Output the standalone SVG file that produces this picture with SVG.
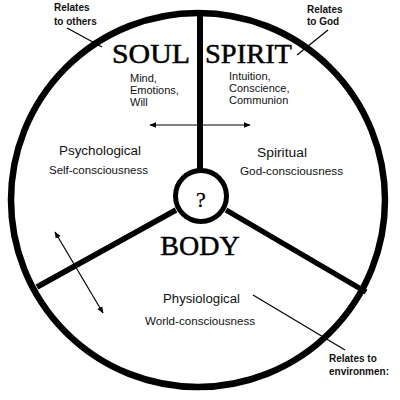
<svg xmlns="http://www.w3.org/2000/svg" width="400" height="400" viewBox="0 0 400 400">
<style>
.big{font-family:"Liberation Serif",serif;font-size:28px;fill:#000;stroke:#000;stroke-width:0.5}
.sub{font-family:"Liberation Sans",sans-serif;font-size:11px;fill:#111}
.lbl{font-family:"Liberation Sans",sans-serif;font-size:12.5px;fill:#111}
.note{font-family:"Liberation Sans",sans-serif;font-size:10px;font-weight:bold;fill:#111}
.thin{stroke:#000;stroke-width:1.2;fill:none}
</style>
<defs>
<marker id="ah" viewBox="0 0 10 10" refX="9" refY="5" markerWidth="7" markerHeight="7" orient="auto-start-reverse" markerUnits="userSpaceOnUse">
<path d="M0,1 L10,5 L0,9 Z" fill="#000"/>
</marker>
</defs>
<rect width="400" height="400" fill="#fff"/>
<g id="connectors">
<line x1="67" y1="28" x2="102" y2="47" class="thin"/>
<line x1="328" y1="30" x2="297" y2="55" class="thin"/>
<line x1="253" y1="295" x2="345" y2="350" class="thin"/>
<line x1="150" y1="125" x2="250" y2="125" class="thin" marker-start="url(#ah)" marker-end="url(#ah)"/>
<line x1="55" y1="232" x2="103" y2="313" class="thin" marker-start="url(#ah)" marker-end="url(#ah)"/>
</g>
<g id="wheel" stroke="#000" fill="none">
<circle cx="198" cy="200" r="187" stroke-width="6.5"/>
<line x1="200" y1="12" x2="200" y2="171" stroke-width="6"/>
<line x1="176" y1="210" x2="37" y2="287" stroke-width="5.5"/>
<line x1="226" y1="210" x2="366" y2="292" stroke-width="5.5"/>
<circle cx="201" cy="196" r="25.5" stroke-width="5" fill="#fff"/>
</g>
<g id="soul">
<text x="112" y="63" class="big" textLength="78" lengthAdjust="spacingAndGlyphs">SOUL</text>
<text x="130" y="82" class="sub">Mind,</text>
<text x="130" y="94" class="sub">Emotions,</text>
<text x="130" y="106" class="sub">Will</text>
<text x="59" y="155" class="lbl" textLength="82" lengthAdjust="spacingAndGlyphs">Psychological</text>
<text x="49" y="174" class="sub" textLength="99" lengthAdjust="spacingAndGlyphs">Self-consciousness</text>
</g>
<g id="spirit">
<text x="205" y="63" class="big" textLength="87" lengthAdjust="spacingAndGlyphs">SPIRIT</text>
<text x="229" y="80" class="sub">Intuition,</text>
<text x="229" y="92" class="sub">Conscience,</text>
<text x="229" y="104" class="sub">Communion</text>
<text x="257" y="157" class="lbl" textLength="50" lengthAdjust="spacingAndGlyphs">Spiritual</text>
<text x="240" y="175" class="sub" textLength="103" lengthAdjust="spacingAndGlyphs">God-consciousness</text>
</g>
<g id="body">
<text x="201" y="207" class="big" text-anchor="middle" style="font-size:22px;stroke-width:0.3">?</text>
<text x="200" y="255" class="big" text-anchor="middle">BODY</text>
<text x="163" y="303" class="lbl" textLength="77" lengthAdjust="spacingAndGlyphs">Physiological</text>
<text x="145" y="325" class="sub" textLength="110" lengthAdjust="spacingAndGlyphs">World-consciousness</text>
</g>
<g id="notes">
<text x="54" y="11" class="note">Relates</text>
<text x="54" y="25" class="note">to others</text>
<text x="307" y="13" class="note">Relates</text>
<text x="307" y="25" class="note">to God</text>
<text x="329" y="362" class="note">Relates to</text>
<text x="329" y="375" class="note">environmen:</text>
</g>
</svg>
